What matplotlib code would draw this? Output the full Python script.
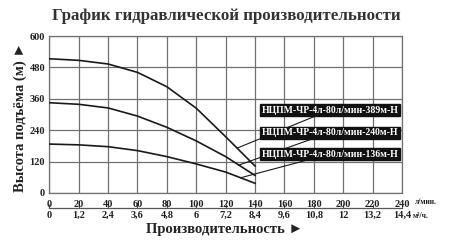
import matplotlib
matplotlib.use("Agg")
import matplotlib.pyplot as plt

flow = [0, 20, 40, 60, 80, 100, 120, 140]
head_389 = [513, 507, 493, 461, 406, 324, 215, 103]
head_240 = [345, 339, 325, 294, 251, 199, 139, 67]
head_136 = [187, 184, 177, 162, 139, 111, 80, 37]
labels = ["НЦПМ-ЧР-4л-80л/мин-389м-Н", "НЦПМ-ЧР-4л-80л/мин-240м-Н", "НЦПМ-ЧР-4л-80л/мин-136м-Н"]
label_pos = [(144.5, 317), (144.5, 231), (144.5, 149)]
leader_pts = [(128, 172), (128.6, 106), (130, 58)]
x_ticks = list(range(0, 241, 20))
y_ticks = [0, 120, 240, 360, 480, 600]
m3h_labels = ["0", "1,2", "2,4", "3,6", "4,8", "6", "7,2", "8,4", "9,6", "10,8", "12", "13,2", "14,4"]

serif = "Liberation Serif"
fig = plt.figure(figsize=(4.5, 2.49), dpi=100)
ax = fig.add_axes([0.1096, 0.2249, 0.7838, 0.6305])
ax.set_xlim(0, 240)
ax.set_ylim(0, 600)
ax.set_xticks(x_ticks)
ax.set_yticks(y_ticks)
ax.grid(True, color="#707070", linewidth=0.9)
for s in ax.spines.values():
    s.set_color("#707070")
    s.set_linewidth(0.9)
ax.tick_params(length=0, pad=5)
ax.set_xticklabels([str(v) for v in x_ticks], fontfamily=serif, fontweight="bold", fontsize=7.5, color="#222")
ax.set_yticklabels([str(v) for v in y_ticks], fontfamily=serif, fontweight="bold", fontsize=7.5, color="#222")
ax.tick_params(axis="y", pad=3)

for h in (head_389, head_240, head_136):
    ax.plot(flow, h, color="#1a1a1a", linewidth=1.2, zorder=3)

for lab, pos, pt in zip(labels, label_pos, leader_pts):
    ax.annotate(lab, xy=pt, xytext=pos, ha="left", va="center",
                fontfamily=serif, fontweight="bold", fontsize=7, color="white",
                bbox=dict(boxstyle="square,pad=0.15", fc="#111", ec="#111"),
                arrowprops=dict(arrowstyle="-", color="#1a1a1a", lw=0.8, shrinkA=0, shrinkB=0),
                zorder=5)

sec = ax.secondary_xaxis(-0.097)
sec.set_xticks(x_ticks)
sec.set_xticklabels(m3h_labels, fontfamily=serif, fontweight="bold", fontsize=7.5, color="#222")
sec.spines["bottom"].set_color("#555")
sec.spines["bottom"].set_linewidth(0.9)
sec.tick_params(direction="in", length=3, width=0.8, color="#555", pad=2)

fig.text(0.922, 0.188, "л/мин.", fontfamily=serif, fontweight="bold", fontsize=5.5, color="#222", va="center")
fig.text(0.918, 0.132, "м³/ч.", fontfamily=serif, fontweight="bold", fontsize=5.5, color="#222", va="center")

fig.text(0.5, 0.077, "Производительность ►", ha="center", va="center",
         fontfamily=serif, fontweight="bold", fontsize=10.5, color="#222")
fig.text(0.045, 0.53, "Высота подъёма (м) ►", ha="center", va="center", rotation=90,
         fontfamily=serif, fontweight="bold", fontsize=10.5, color="#222")
fig.text(0.502, 0.935, "График гидравлической производительности", ha="center", va="center",
         fontfamily=serif, fontweight="bold", fontsize=12.2, color="#333")

fig.savefig("out.png", dpi=100)
